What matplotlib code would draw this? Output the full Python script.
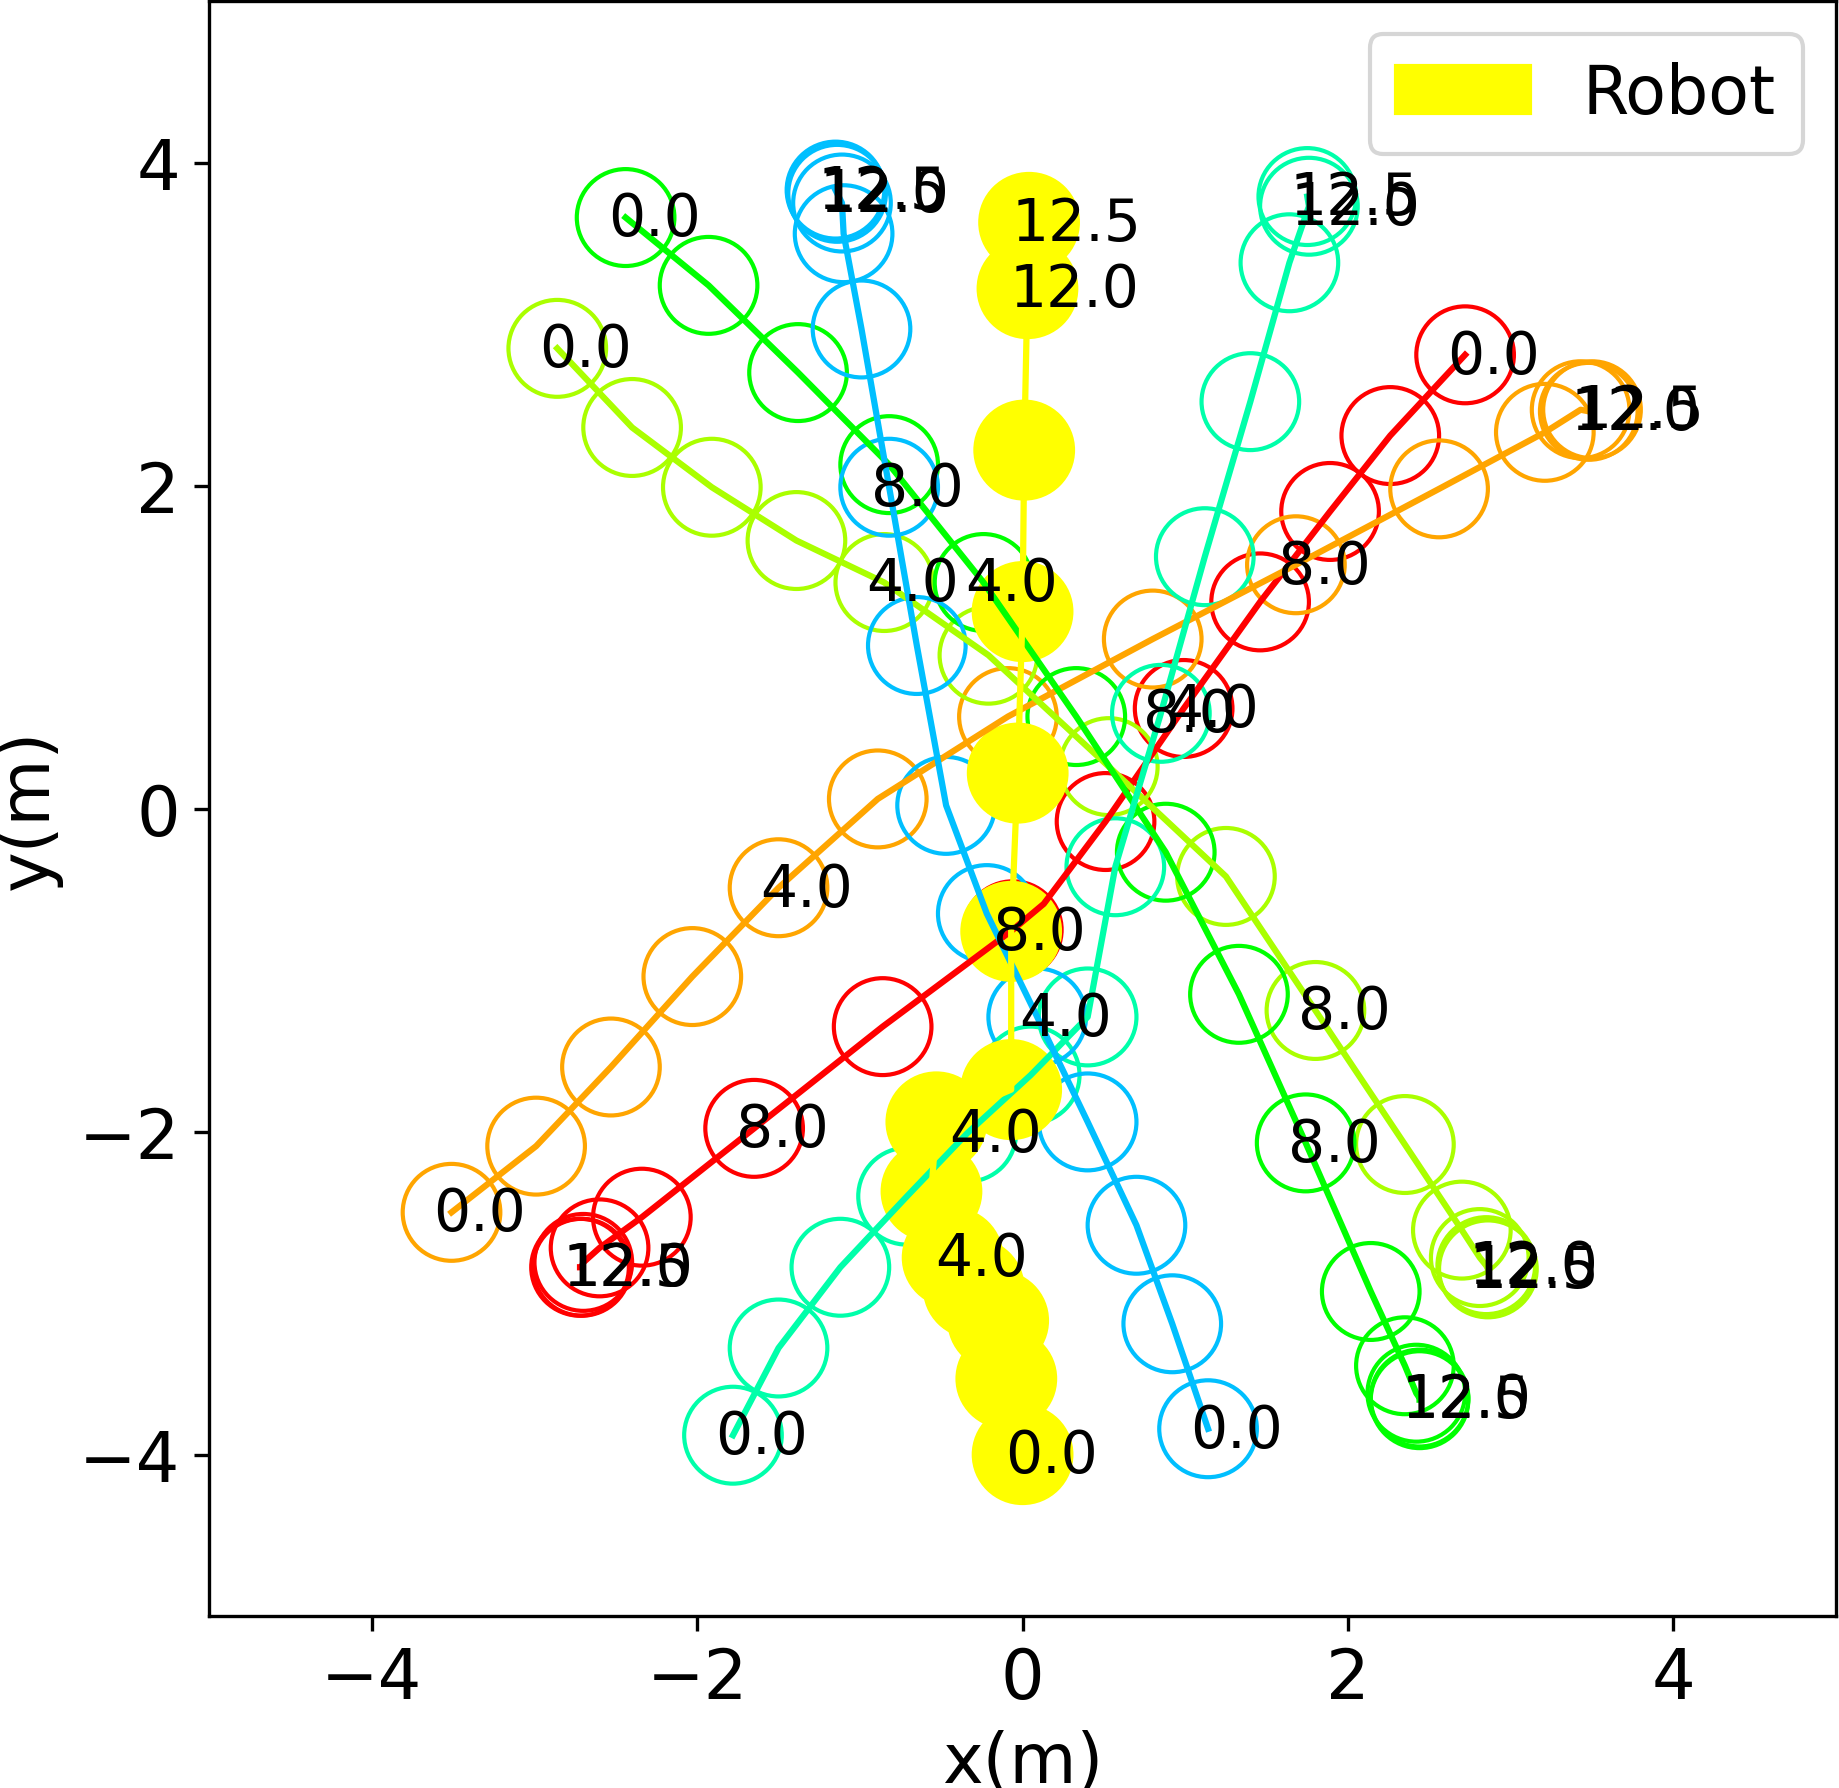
import matplotlib
matplotlib.use("Agg")
import matplotlib.pyplot as plt
from matplotlib.patches import Circle, Patch

# sampled times (s) of every drawn circle
times = [0, 1, 2, 3, 4, 5, 6, 7, 8, 9, 10, 11, 12, 12.5]
label_times = [0, 4, 8, 12, 12.5]

robot_x = [0.00, -0.10, -0.15, -0.30, -0.43, -0.56, -0.53, -0.07, -0.07, -0.03, 0.00, 0.01, 0.03, 0.04]
robot_y = [-4.00, -3.53, -3.17, -2.97, -2.78, -2.37, -1.94, -1.74, -0.76, 0.22, 1.22, 2.22, 3.22, 3.63]

red_x = [2.72, 2.26, 1.89, 1.46, 0.99, 0.51, -0.06, -0.86, -1.65, -2.34, -2.60, -2.70, -2.71, -2.72]
red_y = [2.81, 2.31, 1.84, 1.28, 0.62, -0.08, -0.75, -1.35, -1.98, -2.53, -2.72, -2.81, -2.84, -2.84]

orange_x = [-3.51, -2.99, -2.53, -2.03, -1.50, -0.89, -0.09, 0.80, 1.68, 2.56, 3.21, 3.43, 3.48, 3.50]
orange_y = [-2.50, -2.09, -1.60, -1.04, -0.49, 0.06, 0.57, 1.05, 1.51, 1.98, 2.33, 2.47, 2.46, 2.47]

lime_x = [-2.86, -2.40, -1.91, -1.39, -0.85, -0.21, 0.53, 1.25, 1.80, 2.35, 2.70, 2.81, 2.85, 2.86]
lime_y = [2.85, 2.36, 1.99, 1.66, 1.40, 0.95, 0.26, -0.42, -1.25, -2.08, -2.61, -2.78, -2.83, -2.85]

green_x = [-2.44, -1.93, -1.38, -0.82, -0.24, 0.33, 0.88, 1.33, 1.74, 2.14, 2.35, 2.42, 2.44, 2.44]
green_y = [3.66, 3.24, 2.70, 2.13, 1.40, 0.57, -0.27, -1.15, -2.07, -2.99, -3.45, -3.62, -3.65, -3.66]

spring_x = [-1.78, -1.50, -1.12, -0.71, -0.34, 0.05, 0.40, 0.57, 0.85, 1.12, 1.40, 1.64, 1.76, 1.75]
spring_y = [-3.88, -3.34, -2.84, -2.40, -2.01, -1.65, -1.29, -0.36, 0.59, 1.56, 2.52, 3.38, 3.73, 3.79]

blue_x = [1.14, 0.92, 0.70, 0.40, 0.09, -0.22, -0.47, -0.65, -0.82, -0.99, -1.10, -1.11, -1.14, -1.15]
blue_y = [-3.84, -3.19, -2.58, -1.94, -1.29, -0.65, 0.02, 1.01, 1.99, 2.97, 3.56, 3.75, 3.81, 3.83]

# extra path vertex where the red walker bends between circles (t, x, y)
red_bend = [(5.6, 0.13, -0.59)]

humans = [
    ('#ff0000', red_x, red_y, red_bend),
    ('#ffa500', orange_x, orange_y, []),
    ('#aaff00', lime_x, lime_y, []),
    ('#00ff00', green_x, green_y, []),
    ('#00ffaa', spring_x, spring_y, []),
    ('#00bfff', blue_x, blue_y, []),
]
robot_color = 'yellow'
radius = 0.3
x_offset = 0.11
y_offset = 0.11


def path_of(xs, ys, extra):
    pts = list(zip(times, xs, ys)) + list(extra)
    pts.sort(key=lambda p: p[0])
    return [p[1] for p in pts], [p[2] for p in pts]


fig = plt.figure(figsize=(1839 / 300, 1789 / 300), dpi=300)
ax = fig.add_axes([0.1137, 0.0961, 0.8847, 0.9027])
ax.set_xlim(-5, 5)
ax.set_ylim(-5, 5)
ax.tick_params(labelsize=16.5)
ax.set_xlabel('x(m)', fontsize=16.5)
ax.set_ylabel('y(m)', fontsize=16.5)

# human circles (open)
for color, xs, ys, extra in humans:
    for x, y in zip(xs, ys):
        ax.add_patch(Circle((x, y), radius, fill=False, color=color, lw=1.0, zorder=1))

# robot circles (filled)
for x, y in zip(robot_x, robot_y):
    ax.add_patch(Circle((x, y), radius, fill=True, color=robot_color, zorder=1.5))

# trajectories
for color, xs, ys, extra in humans:
    px, py = path_of(xs, ys, extra)
    ax.plot(px, py, color=color, lw=1.5, zorder=2)
ax.plot(robot_x, robot_y, color=robot_color, lw=1.5, zorder=2.1)

# time annotations
agents = [(xs, ys) for _, xs, ys, _ in humans] + [(robot_x, robot_y)]
for xs, ys in agents:
    for t, x, y in zip(times, xs, ys):
        if t in label_times:
            ax.text(x - x_offset, y - y_offset, '{:.1f}'.format(t),
                    color='black', fontsize=14, zorder=3)

ax.legend([Patch(color=robot_color)], ['Robot'], fontsize=16, loc='upper right')

fig.savefig('out.png', dpi=300)
